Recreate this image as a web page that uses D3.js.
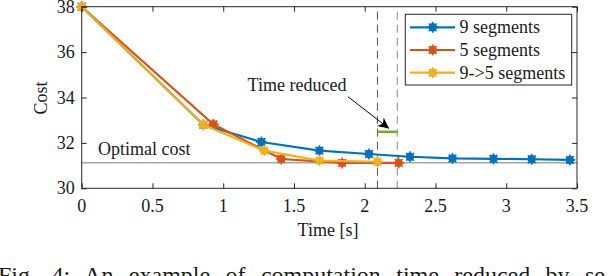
<!DOCTYPE html>
<html>
<head>
<meta charset="utf-8">
<script src="https://d3js.org/d3.v7.min.js"></script>
<style>
body { margin: 0; background: #fff; }
svg { display: block; }
</style>
</head>
<body>
<script>
//Width and height
var w = 608;
var h = 276;

//Series data
var time9 = [0, 0.86, 1.27, 1.68, 2.03, 2.32, 2.62, 2.91, 3.18, 3.45];
var cost9 = [38, 32.80, 32.04, 31.66, 31.51, 31.39, 31.32, 31.30, 31.28, 31.25];
var time5 = [0, 0.93, 1.41, 1.84, 2.24];
var cost5 = [38, 32.82, 31.29, 31.12, 31.12];
var time95 = [0, 0.86, 1.29, 1.68, 2.09];
var cost95 = [38, 32.80, 31.66, 31.22, 31.17];
var seriesNames = ["9 segments", "5 segments", "9->5 segments"];
var seriesColors = ["#0072BD", "#D95319", "#EDB120"];
var xTicks = [0, 0.5, 1, 1.5, 2, 2.5, 3, 3.5];
var yTicks = [30, 32, 34, 36, 38];
var optimalCost = 31.13;
var reducedStart = 2.09;
var reducedEnd = 2.23;
var reducedLevel = 32.49;

var series = [
	{ name: seriesNames[0], color: seriesColors[0], t: time9, c: cost9 },
	{ name: seriesNames[1], color: seriesColors[1], t: time5, c: cost5 },
	{ name: seriesNames[2], color: seriesColors[2], t: time95, c: cost95 }
];

var x = d3.scaleLinear().domain([0, 3.5]).range([81.7, 577]);
var y = d3.scaleLinear().domain([30, 38]).range([188.3, 6.7]);

var axisColor = "#262626";
var serif = "'Liberation Serif'";

//Create SVG element
var svg = d3.select("body")
	.append("svg")
	.attr("width", w)
	.attr("height", h);

//Helper for serif labels
function label(g, txt, size) {
	return g.append("text")
		.attr("font-size", size)
		.attr("fill", "#1a1a1a")
		.style("font-family", serif)
		.text(txt);
}

//Arrow marker
svg.append("defs").append("marker")
	.attr("id", "arrow")
	.attr("viewBox", "0 0 10 10")
	.attr("refX", 10).attr("refY", 5)
	.attr("markerWidth", 14).attr("markerHeight", 11)
	.attr("markerUnits", "userSpaceOnUse")
	.attr("orient", "auto")
	.append("path")
	.attr("d", "M0,0 L10,5 L0,10 L3,5 Z")
	.attr("fill", "#000");

//Optimal cost line
svg.append("line")
	.attr("x1", x(0)).attr("x2", x(3.5))
	.attr("y1", y(optimalCost)).attr("y2", y(optimalCost))
	.attr("stroke", "#a6a6a6").attr("stroke-width", 1.5);

label(svg, "Optimal cost", 18).attr("x", 98).attr("y", 155);

//Dashed markers for reduced time
[reducedStart, reducedEnd].forEach(function(t, i) {
	svg.append("line")
		.attr("x1", x(t)).attr("x2", x(t))
		.attr("y1", 11.7).attr("y2", y(30))
		.attr("stroke", i == 0 ? "#555" : "#888")
		.attr("stroke-width", 1)
		.attr("stroke-dasharray", "8,5");
});

svg.append("line")
	.attr("x1", x(reducedStart)).attr("x2", x(reducedEnd))
	.attr("y1", y(reducedLevel)).attr("y2", y(reducedLevel))
	.attr("stroke", "#77AC30").attr("stroke-width", 2.5);

//Series lines
var line = d3.line()
	.x(function(d) { return x(d[0]); })
	.y(function(d) { return y(d[1]); });

function drawMarker(g, cx, cy, color) {
	g.append("circle")
		.attr("cx", cx).attr("cy", cy).attr("r", 4.2)
		.attr("fill", color);
	var r = 5.5;
	for (var a = 0; a < 4; a++) {
		var ang = a * Math.PI / 4;
		g.append("line")
			.attr("x1", cx - r * Math.cos(ang)).attr("y1", cy - r * Math.sin(ang))
			.attr("x2", cx + r * Math.cos(ang)).attr("y2", cy + r * Math.sin(ang))
			.attr("stroke", color).attr("stroke-width", 1.5);
	}
}

series.forEach(function(s) {
	var pts = s.t.map(function(t, i) { return [t, s.c[i]]; });
	var g = svg.append("g");
	g.append("path")
		.attr("d", line(pts))
		.attr("fill", "none")
		.attr("stroke", s.color)
		.attr("stroke-width", 2.2);
	pts.forEach(function(p) {
		drawMarker(g, x(p[0]), y(p[1]), s.color);
	});
});

//Axes box
svg.append("rect")
	.attr("x", x(0)).attr("y", y(38))
	.attr("width", x(3.5) - x(0)).attr("height", y(30) - y(38))
	.attr("fill", "none").attr("stroke", axisColor).attr("stroke-width", 1);

//Ticks on all four sides, pointing inward
var xAxis = d3.axisBottom(x).tickValues(xTicks).tickSize(-5).tickFormat("");
var xAxisTop = d3.axisTop(x).tickValues(xTicks).tickSize(-5).tickFormat("");
var yAxis = d3.axisLeft(y).tickValues(yTicks).tickSize(-5).tickFormat("");
var yAxisRight = d3.axisRight(y).tickValues(yTicks).tickSize(-5).tickFormat("");

function styleAxis(g) {
	g.select(".domain").remove();
	g.selectAll(".tick line").attr("stroke", axisColor);
	g.selectAll(".tick text").remove();
}

svg.append("g").attr("transform", "translate(0," + y(30) + ")").call(xAxis).call(styleAxis);
svg.append("g").attr("transform", "translate(0," + y(38) + ")").call(xAxisTop).call(styleAxis);
svg.append("g").attr("transform", "translate(" + x(0) + ",0)").call(yAxis).call(styleAxis);
svg.append("g").attr("transform", "translate(" + x(3.5) + ",0)").call(yAxisRight).call(styleAxis);

//Tick labels in serif
xTicks.forEach(function(t) {
	label(svg, d3.format("~g")(t), 18)
		.attr("x", x(t)).attr("y", y(30) + 24)
		.attr("text-anchor", "middle");
});
yTicks.forEach(function(t) {
	label(svg, t, 18)
		.attr("x", x(0) - 7).attr("y", y(t) + 6)
		.attr("text-anchor", "end");
});

//Axis titles
label(svg, "Cost", 18)
	.attr("transform", "translate(47,98) rotate(-90)")
	.attr("text-anchor", "middle");

label(svg, "Time [s]", 18)
	.attr("x", 328).attr("y", 236)
	.attr("text-anchor", "middle");

//Annotation
label(svg, "Time reduced", 18)
	.attr("x", 297).attr("y", 91)
	.attr("text-anchor", "middle");

svg.append("line")
	.attr("x1", 348).attr("y1", 96.7)
	.attr("x2", 389).attr("y2", 128.5)
	.attr("stroke", "#000").attr("stroke-width", 1)
	.attr("marker-end", "url(#arrow)");

//Legend
var legend = svg.append("g");
legend.append("rect")
	.attr("x", 405.3).attr("y", 14.3)
	.attr("width", 166.4).attr("height", 70.7)
	.attr("fill", "#fff").attr("stroke", axisColor).attr("stroke-width", 1);

series.forEach(function(s, i) {
	var ly = 27.3 + i * 22.7;
	legend.append("line")
		.attr("x1", 410).attr("x2", 455)
		.attr("y1", ly).attr("y2", ly)
		.attr("stroke", s.color).attr("stroke-width", 2.2);
	drawMarker(legend, 432.7, ly, s.color);
	label(legend, s.name, 18)
		.attr("x", 459.5).attr("y", ly + 6);
});

//Caption (cut off at bottom of the frame)
var caption = label(svg, "Fig. 4: An example of computation time reduced by se", 24)
	.attr("x", -2).attr("y", 283);
var natural = caption.node().getComputedTextLength();
var spaces = 9;
caption.attr("word-spacing", (607 - natural) / spaces);
</script>
</body>
</html>
